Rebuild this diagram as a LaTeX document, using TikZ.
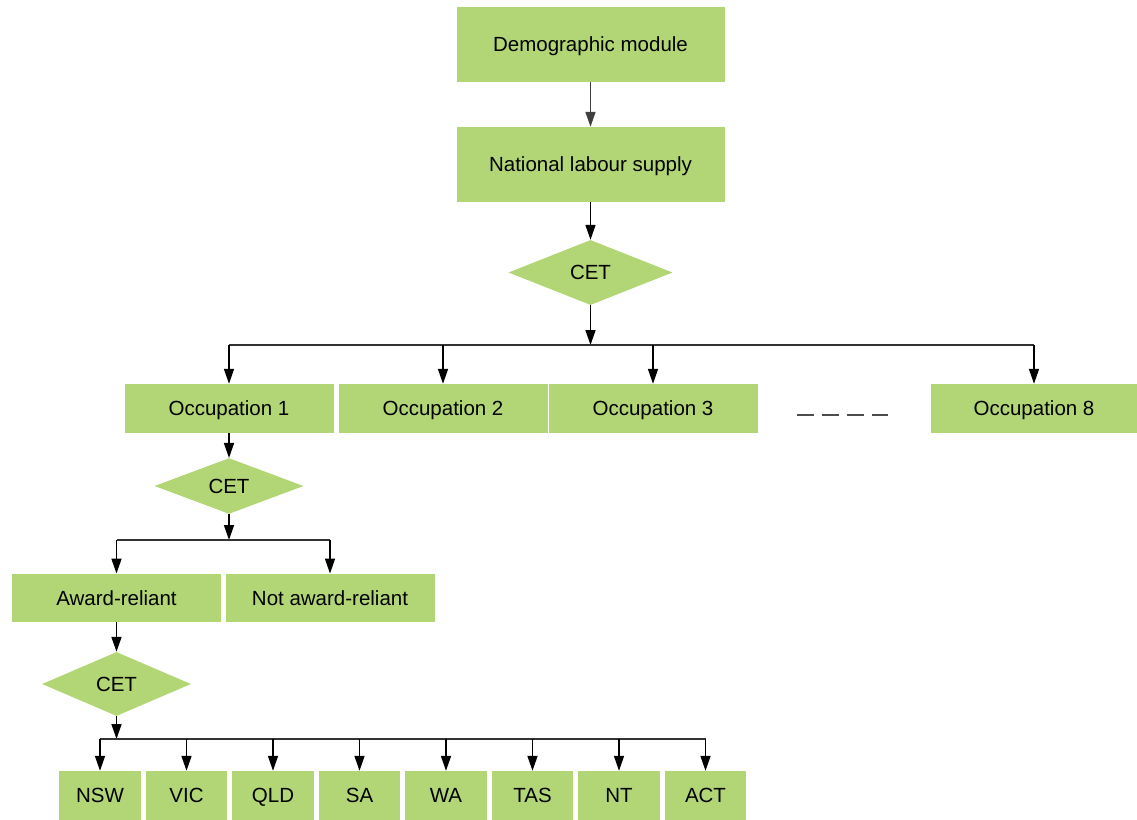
\documentclass[tikz,border=0pt]{standalone}
\usepackage{fontspec}
\setmainfont{Liberation Sans}
\usetikzlibrary{arrows.meta,shapes.geometric}
\definecolor{boxgreen}{RGB}{178,214,118}
\tikzset{
	box/.style={fill=boxgreen, inner sep=0pt, text height=14.7pt, text depth=0pt, minimum width=209pt, minimum height=49pt},
	decision/.style={diamond, fill=boxgreen, inner sep=0pt, text height=14.7pt, text depth=0pt},
	arr/.style={line width=1.6pt, -{Triangle[length=15pt,width=10pt]}},
	bar/.style={line width=1.6pt}
}

\begin{document}
\begin{tikzpicture}[x=1pt, y=-1pt, font=\fontsize{20.5}{24}\selectfont]
			%%%%% START %%%%%
			\useasboundingbox (0, 0) rectangle (1137, 819);
			
			\node[box, minimum width=268pt, minimum height=75pt] (demo) at (590.5, 44.5) {Demographic module};
			\node[box, minimum width=268pt, minimum height=75pt] (nat) at (590.5, 164.5) {National labour supply};
			\node[decision, minimum width=164pt, minimum height=65pt] (cet1) at (590.5, 272.5) {CET};
			
			\draw[arr, color=black!75] (demo) -- (nat);
			\draw[arr] (nat) -- (cet1);
			
			% occupations
			\node[box] (occ1) at (229, 408.5) {Occupation 1};
			\node[box] (occ2) at (443, 408.5) {Occupation 2};
			\node[box] (occ3) at (653, 408.5) {Occupation 3};
			\node[box, minimum width=206pt] (occ8) at (1034, 408.5) {Occupation 8};
			\draw[line width=1.6pt, color=black!70, dash pattern=on 17pt off 8pt] (797, 415) -- (888, 415);
			
			\coordinate (br1) at (590.5, 345);
			\draw[arr] (cet1) -- (br1);
			\draw[bar, color=black!80] (occ1 |- br1) -- (occ8 |- br1);
			\foreach \o in {occ1, occ2, occ3, occ8}
				\draw[arr] (\o |- br1) -- (\o);
			
			% award split
			\node[decision, minimum width=149pt, minimum height=53pt] (cet2) at (229, 486) {CET};
			\draw[arr] (occ1) -- (cet2);
			
			\node[box, minimum height=48.5pt] (award) at (116.5, 598) {Award-reliant};
			\node[box, minimum height=48.5pt] (notaward) at (330, 598) {Not award-reliant};
			
			\coordinate (br2) at (229, 540);
			\draw[arr] (cet2) -- (br2);
			\draw[bar, color=black!80] (award |- br2) -- (notaward |- br2);
			\draw[arr] (award |- br2) -- (award);
			\draw[arr] (notaward |- br2) -- (notaward);
			
			% states
			\node[decision, minimum width=149pt, minimum height=64pt] (cet3) at (116.5, 684) {CET};
			\draw[arr] (award) -- (cet3);
			
			\coordinate (br3) at (116.5, 739);
			\draw[arr] (cet3) -- (br3);
			
			\foreach \s [count=\i from 0] in {NSW, VIC, QLD, SA, WA, TAS, NT, ACT}
				\node[box, minimum width=81.5pt] (st\i) at (100 + 86.5*\i, 795.5) {\s};
			
			\draw[bar, color=black!80] (st0 |- br3) -- (st7 |- br3);
			\foreach \i in {0,...,7}
				\draw[arr] (st\i |- br3) -- (st\i);
			
			%%%%% END %%%%%
		\end{tikzpicture}
\end{document}
